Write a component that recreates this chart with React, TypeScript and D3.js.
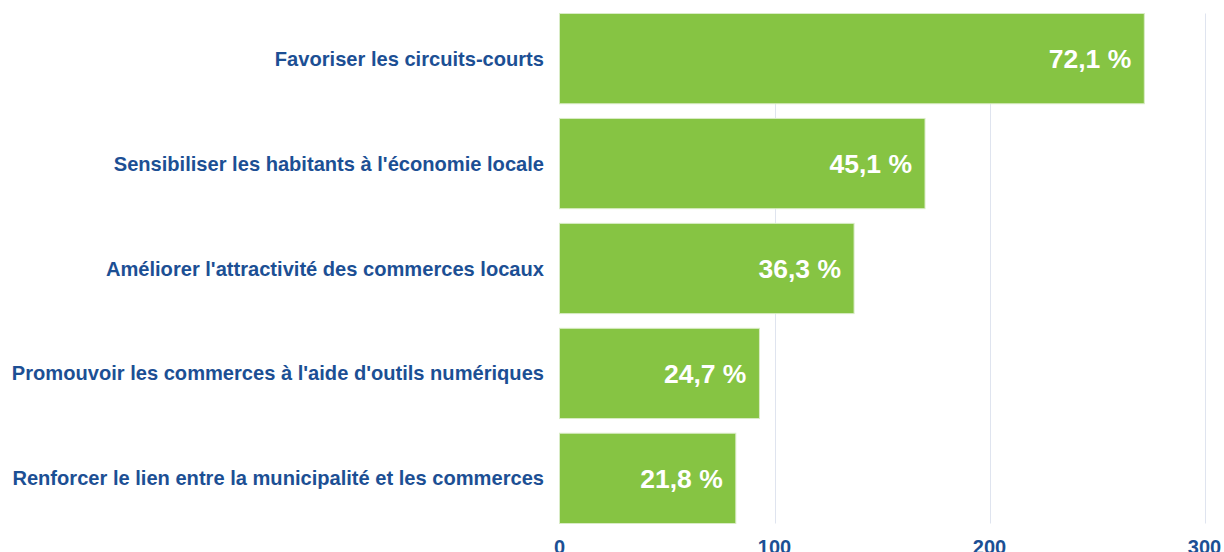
import React, { useRef, useEffect } from 'react';
import * as d3 from 'd3';

const categories = [
  'Favoriser les circuits-courts',
  "Sensibiliser les habitants à l'économie locale",
  "Améliorer l'attractivité des commerces locaux",
  "Promouvoir les commerces à l'aide d'outils numériques",
  'Renforcer le lien entre la municipalité et les commerces',
];
const counts = [272, 170, 137, 93, 82];
const percentLabels = ['72,1 %', '45,1 %', '36,3 %', '24,7 %', '21,8 %'];
const xTicks = [0, 100, 200, 300];

const App = () => {
  const svgRef = useRef<SVGSVGElement>(null);

  useEffect(() => {
    const width = 1224;
    const height = 552;
    const margin = { top: 13.5, right: 20, bottom: 28.5, left: 559.5 };

    const svg = d3.select(svgRef.current);
    svg.selectAll('*').remove();

    const x = d3.scaleLinear().domain([0, 300]).range([margin.left, 1204.5]);
    const y = d3.scaleBand()
      .domain(categories)
      .range([margin.top, height - margin.bottom])
      .paddingInner(0.14)
      .paddingOuter(0);

    // grid lines
    svg.append('g')
      .selectAll('line')
      .data(xTicks.slice(1))
      .join('line')
      .attr('x1', d => Math.round(x(d)) + 0.5)
      .attr('x2', d => Math.round(x(d)) + 0.5)
      .attr('y1', margin.top)
      .attr('y2', height - margin.bottom)
      .attr('stroke', '#dfe4ef')
      .attr('stroke-width', 1);

    const data = categories.map((c, i) => ({ name: c, value: counts[i], label: percentLabels[i] }));

    // bars
    svg.append('g')
      .selectAll('rect')
      .data(data)
      .join('rect')
      .attr('x', x(0))
      .attr('y', d => y(d.name)!)
      .attr('width', d => x(d.value) - x(0))
      .attr('height', y.bandwidth())
      .attr('fill', '#86c443')
      .attr('stroke', '#d9ecc6')
      .attr('stroke-width', 1);

    // value labels inside bars
    svg.append('g')
      .selectAll('text')
      .data(data)
      .join('text')
      .attr('x', d => x(d.value) - 13)
      .attr('y', d => y(d.name)! + y.bandwidth() / 2)
      .attr('dy', '0.35em')
      .attr('text-anchor', 'end')
      .attr('fill', '#ffffff')
      .attr('font-family', 'Liberation Sans, Arial, sans-serif')
      .attr('font-weight', 'bold')
      .attr('font-size', '26.5px')
      .text(d => d.label);

    // category labels
    svg.append('g')
      .selectAll('text')
      .data(data)
      .join('text')
      .attr('x', 544)
      .attr('y', d => y(d.name)! + y.bandwidth() / 2)
      .attr('dy', '0.35em')
      .attr('text-anchor', 'end')
      .attr('fill', '#1c4f94')
      .attr('font-family', 'Liberation Sans, Arial, sans-serif')
      .attr('font-weight', 'bold')
      .attr('font-size', '20.1px')
      .text(d => d.name);

    // x tick labels
    svg.append('g')
      .selectAll('text')
      .data(xTicks)
      .join('text')
      .attr('x', d => x(d))
      .attr('y', 554)
      .attr('text-anchor', 'middle')
      .attr('fill', '#1c4f94')
      .attr('font-family', 'Liberation Sans, Arial, sans-serif')
      .attr('font-weight', 'bold')
      .attr('font-size', '20px')
      .text(d => d);
  }, []);

  return (
    <svg
      ref={svgRef}
      width={1224}
      height={552}
      style={{ position: 'absolute', left: 0, top: 0, background: '#fff' }}
    ></svg>
  );
};

export default App;
